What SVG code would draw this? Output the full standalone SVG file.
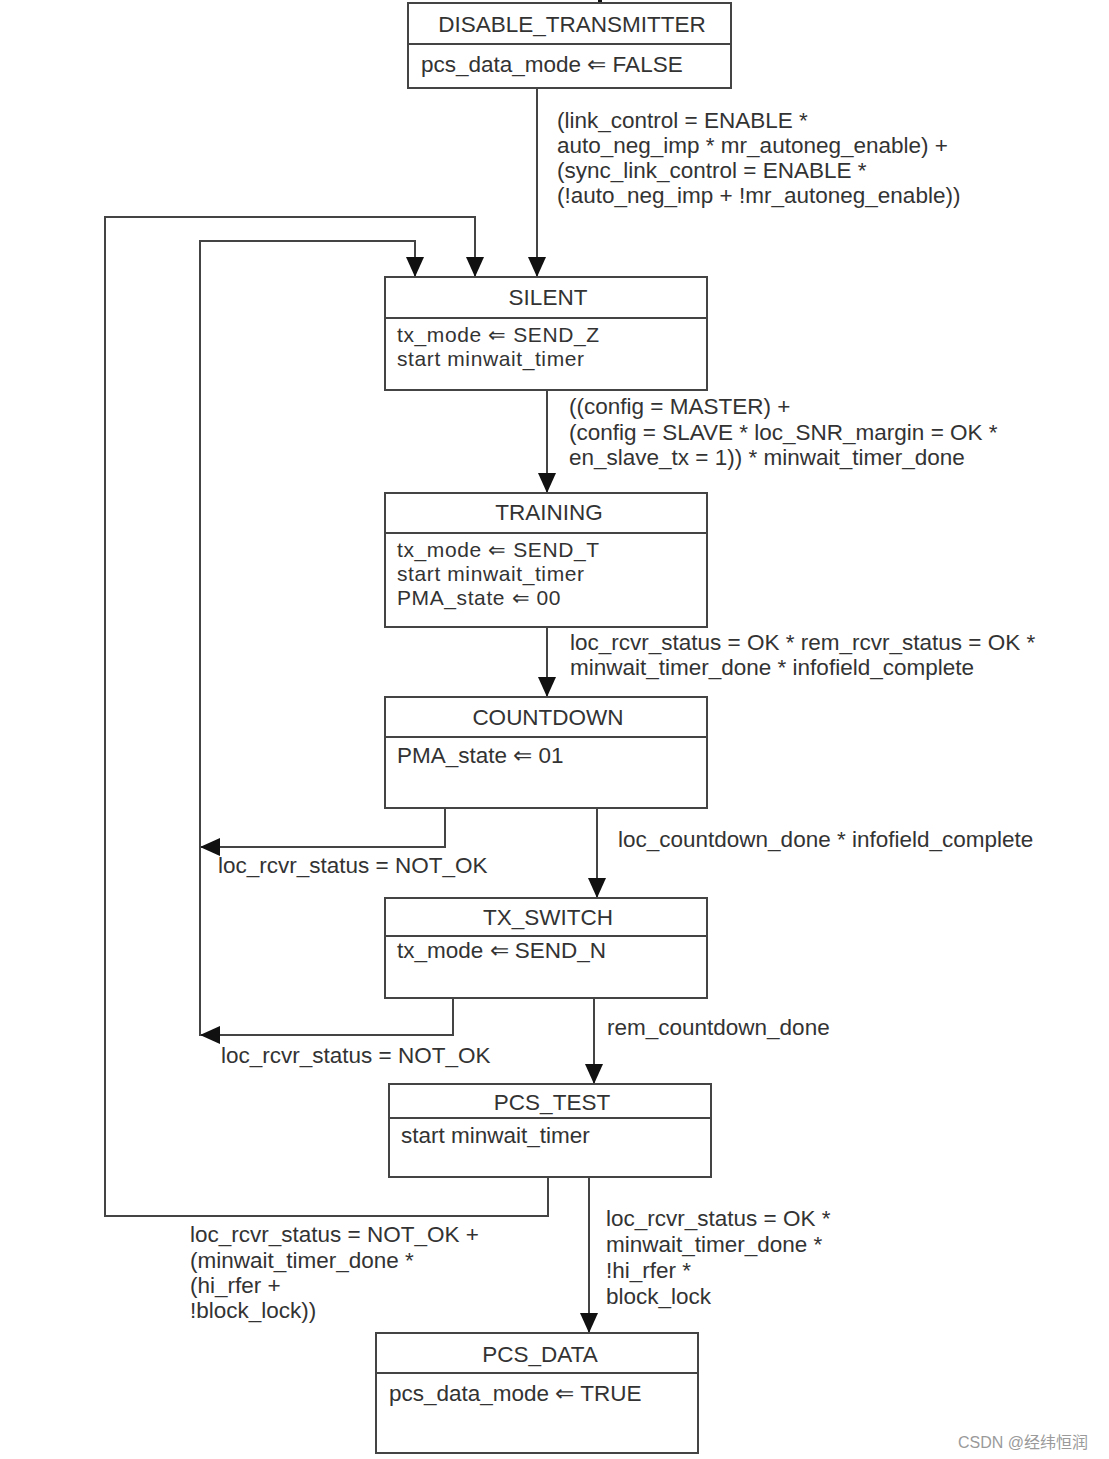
<svg xmlns="http://www.w3.org/2000/svg" width="1109" height="1459" viewBox="0 0 1109 1459">
<defs>
<marker id="ah" viewBox="0 0 20 20" refX="20" refY="10" markerWidth="20" markerHeight="20" orient="auto" markerUnits="userSpaceOnUse">
<path d="M0,1 L20,10 L0,19 z" fill="#111"/>
</marker>
<style>
.box{fill:#fff;stroke:#444;stroke-width:2}
.div{stroke:#444;stroke-width:2}
.t{font-family:"Liberation Sans",Arial,sans-serif;font-size:22.5px;fill:#333}
.b{font-family:"Liberation Sans",Arial,sans-serif;font-size:21px;letter-spacing:0.6px;fill:#333}
.c{text-anchor:middle}
.w{stroke:#444;stroke-width:2;fill:none}
.wm{font-family:"Liberation Sans","Noto Sans CJK SC",sans-serif;font-size:16px;fill:#9a9a9a}
</style>
</defs>
<rect width="1109" height="1459" fill="#fff"/>

<g id="connectors">
<line x1="600" y1="0" x2="600" y2="4" stroke="#111" stroke-width="4"/>
<path class="w" d="M537,88 V277" marker-end="url(#ah)"/>
<path class="w" d="M547,390 V493" marker-end="url(#ah)"/>
<path class="w" d="M547,627 V697" marker-end="url(#ah)"/>
<path class="w" d="M597,808 V898" marker-end="url(#ah)"/>
<path class="w" d="M594,998 V1084" marker-end="url(#ah)"/>
<path class="w" d="M589,1177 V1333" marker-end="url(#ah)"/>
<path class="w" d="M445,808 V847 H200" marker-end="url(#ah)"/>
<path class="w" d="M453,998 V1035 H200" marker-end="url(#ah)"/>
<path class="w" d="M200,1036 V241 H415 V277" marker-end="url(#ah)"/>
<path class="w" d="M548,1177 V1216 H105 V217 H475 V277" marker-end="url(#ah)"/>
<g class="t">
<text x="557" y="128">(link_control = ENABLE *</text>
<text x="557" y="153">auto_neg_imp * mr_autoneg_enable) +</text>
<text x="557" y="178">(sync_link_control = ENABLE *</text>
<text x="557" y="203">(!auto_neg_imp + !mr_autoneg_enable))</text>
<text x="569" y="414">((config = MASTER) +</text>
<text x="569" y="440">(config = SLAVE * loc_SNR_margin = OK *</text>
<text x="569" y="465">en_slave_tx = 1)) * minwait_timer_done</text>
<text x="570" y="650">loc_rcvr_status = OK * rem_rcvr_status = OK *</text>
<text x="570" y="675">minwait_timer_done * infofield_complete</text>
<text x="618" y="847">loc_countdown_done * infofield_complete</text>
<text x="218" y="873">loc_rcvr_status = NOT_OK</text>
<text x="607" y="1035">rem_countdown_done</text>
<text x="221" y="1063">loc_rcvr_status = NOT_OK</text>
<text x="606" y="1226">loc_rcvr_status = OK *</text>
<text x="606" y="1252">minwait_timer_done *</text>
<text x="606" y="1278">!hi_rfer *</text>
<text x="606" y="1304">block_lock</text>
<text x="190" y="1242">loc_rcvr_status = NOT_OK +</text>
<text x="190" y="1268">(minwait_timer_done *</text>
<text x="190" y="1293">(hi_rfer +</text>
<text x="190" y="1318">!block_lock))</text>
</g>
</g>

<g id="DISABLE_TRANSMITTER">
<rect class="box" x="408" y="3" width="323" height="85"/>
<line class="div" x1="408" y1="44" x2="731" y2="44"/>
<text class="t c" x="572" y="32">DISABLE_TRANSMITTER</text>
<text class="t" x="421" y="72">pcs_data_mode ⇐ FALSE</text>
</g>

<g id="SILENT">
<rect class="box" x="385" y="277" width="322" height="113"/>
<line class="div" x1="385" y1="318" x2="707" y2="318"/>
<text class="t c" x="548" y="305">SILENT</text>
<text class="b" x="397" y="342">tx_mode ⇐ SEND_Z</text>
<text class="b" x="397" y="366">start minwait_timer</text>
</g>

<g id="TRAINING">
<rect class="box" x="385" y="493" width="322" height="134"/>
<line class="div" x1="385" y1="533" x2="707" y2="533"/>
<text class="t c" x="549" y="520">TRAINING</text>
<text class="b" x="397" y="557">tx_mode ⇐ SEND_T</text>
<text class="b" x="397" y="581">start minwait_timer</text>
<text class="b" x="397" y="605">PMA_state ⇐ 00</text>
</g>

<g id="COUNTDOWN">
<rect class="box" x="385" y="697" width="322" height="111"/>
<line class="div" x1="385" y1="737" x2="707" y2="737"/>
<text class="t c" x="548" y="725">COUNTDOWN</text>
<text class="t" x="397" y="763">PMA_state ⇐ 01</text>
</g>

<g id="TX_SWITCH">
<rect class="box" x="385" y="898" width="322" height="100"/>
<line class="div" x1="385" y1="936" x2="707" y2="936"/>
<text class="t c" x="548" y="925">TX_SWITCH</text>
<text class="t" x="397" y="958">tx_mode ⇐ SEND_N</text>
</g>

<g id="PCS_TEST">
<rect class="box" x="389" y="1084" width="322" height="93"/>
<line class="div" x1="389" y1="1118" x2="711" y2="1118"/>
<text class="t c" x="552" y="1110">PCS_TEST</text>
<text class="t" x="401" y="1143">start minwait_timer</text>
</g>

<g id="PCS_DATA">
<rect class="box" x="376" y="1333" width="322" height="120"/>
<line class="div" x1="376" y1="1373" x2="698" y2="1373"/>
<text class="t c" x="540" y="1362">PCS_DATA</text>
<text class="t" x="389" y="1401">pcs_data_mode ⇐ TRUE</text>
</g>

<text class="wm" x="958" y="1448">CSDN @经纬恒润</text>
</svg>
